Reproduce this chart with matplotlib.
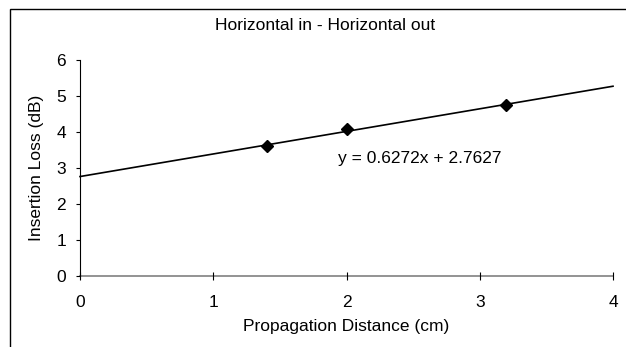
import matplotlib.pyplot as plt
import matplotlib.patches as mpatches
import numpy as np

plt.rcParams["font.family"] = ["Liberation Sans", "DejaVu Sans"]

distance = [1.4, 2.0, 3.2]
loss = [3.6, 4.07, 4.76]
slope = 0.6272
intercept = 2.7627
title = "Horizontal in - Horizontal out"
equation = "y = 0.6272x + 2.7627"

W, H = 626, 347
fig = plt.figure(figsize=(W / 100, H / 100), dpi=100)
ax = fig.add_axes([80 / W, 71 / H, 533 / W, 216 / H])

# trendline across the whole x range
xs = np.array([0.0, 4.0])
ax.plot(xs, slope * xs + intercept, color="black", lw=1.2, clip_on=False)
ax.plot(distance, loss, ls="none", marker="D", ms=6.5, color="black")

ax.set_xlim(0, 4)
ax.set_ylim(0, 6)
ax.set_xticks(range(0, 5))
ax.set_yticks(range(0, 7))

for s in ["top", "right"]:
    ax.spines[s].set_visible(False)
ax.spines["left"].set_color("black")
ax.spines["bottom"].set_color("#808080")
ax.spines["left"].set_linewidth(0.8)
ax.spines["bottom"].set_linewidth(1.2)
ax.spines["bottom"].set_zorder(1)

fs = 12.5
ax.tick_params(axis="y", direction="out", length=3, width=0.8, labelsize=fs, pad=7)
ax.tick_params(axis="x", direction="inout", length=6, width=0.8, labelsize=fs, pad=11)

ax.set_xlabel("Propagation Distance (cm)", fontsize=fs, labelpad=6)
ax.set_ylabel("Insertion Loss (dB)", fontsize=fs, labelpad=9)

fig.text(325 / W, 1 - 25 / H, title, ha="center", va="center", fontsize=fs)
ax.text(2.55, 3.25, equation, ha="center", va="center", fontsize=fs)

# outer chart border, cut by the image edge on the right and bottom
fig.patches.append(mpatches.Rectangle((10 / W, -0.1), 1.2, 1 - 9 / H + 0.1,
                                      transform=fig.transFigure, fill=False,
                                      edgecolor="black", lw=1.0))

fig.savefig("out.png", dpi=100)
